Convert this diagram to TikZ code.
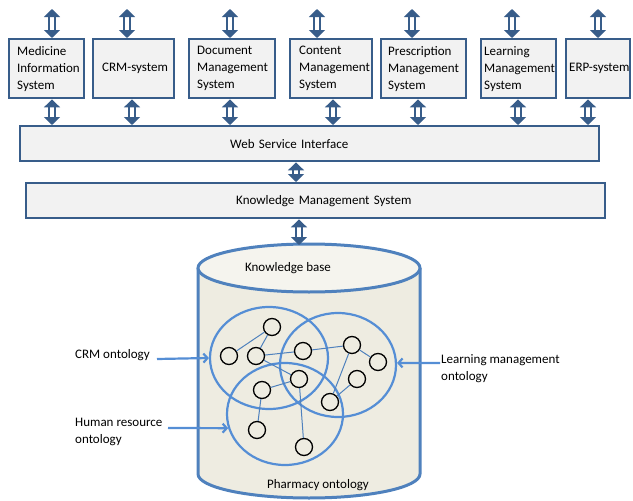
\documentclass[tikz,border=0pt]{standalone}
\usepackage{fontspec}
\setmainfont{Carlito}
\usetikzlibrary{shapes.geometric,arrows.meta}

\definecolor{boxline}{HTML}{385D8A}
\definecolor{boxfill}{HTML}{F2F2F2}
\definecolor{kbline}{HTML}{4F81BD}
\definecolor{kbbody}{HTML}{EEECE1}
\definecolor{kbtop}{HTML}{F5F4EE}
\definecolor{ontoline}{HTML}{558ED5}

\tikzset{
  sysbox/.style={draw=boxline, line width=2.4pt, fill=boxfill, anchor=north west,
    minimum height=59, inner xsep=0, align=left},
  widebox/.style={sysbox, minimum width=579, minimum height=35, text width=159},
  dblarr/.style={boxline, line width=1.8pt, double=white, double distance=3.6pt,
    {Triangle[width=16pt,length=8pt]}-{Triangle[width=16pt,length=8pt]}},
  onto/.style={ellipse, draw=ontoline, line width=2.2pt, inner sep=0},
  concept/.style={circle, draw=black, line width=1.3pt, fill=kbbody, minimum size=17, inner sep=0},
  link/.style={kbline, line width=1pt},
  ontarrow/.style={ontoline, line width=2.2pt, -{Straight Barb[length=4pt,width=9pt]}},
  lbl/.style={anchor=west, inner sep=0, align=left}
}

\begin{document}
\begin{tikzpicture}[x=1pt, y=-1pt, font=\fontsize{13pt}{17pt}\selectfont]
  \useasboundingbox (0,0) rectangle (633,501);

  % application systems
  \node[sysbox, minimum width=75, text width=59] (mis) at (8,38) {Medicine\\Information\\System};
  \node[sysbox, minimum width=81, text width=63] (crm) at (92,38) {\mbox{CRM-system}};
  \node[sysbox, minimum width=86, text width=70] (dms) at (188,38) {Document\\Management\\System};
  \node[sysbox, minimum width=82, text width=64] (cms) at (289,38) {Content\\Management\\System};
  \node[sysbox, minimum width=85, text width=71] (pms) at (380,38) {Prescription\\Management\\System};
  \node[sysbox, minimum width=75, text width=69] (lms) at (480,38) {Learning\\Management\\System};
  \node[sysbox, minimum width=64, text width=58] (erp) at (565,38) {\mbox{ERP-system}};

  \node[widebox] (wsi) at (19,125) {\mbox{Web Service Interface}};
  \node[widebox] (kms) at (25,182) {\mbox{Knowledge Management System}};

  \foreach \n/\tx/\bx in {mis/52/52, crm/127/132, dms/230/230, cms/317/333,
                          pms/412/418, lms/512/518, erp/598/588}{
    \coordinate (\n-top) at (\tx,9);
    \coordinate (\n-bot) at (\bx,0);
    \draw[dblarr] (\n-top) -- (\n-top |- \n.north);
    \draw[dblarr] (\n.south -| \n-bot) -- (wsi.north -| \n-bot);
  }
  \coordinate (wsi-kms) at (296,0);
  \draw[dblarr] (wsi.south -| wsi-kms) -- (kms.north -| wsi-kms);

  % knowledge base
  \draw[kbline, line width=3pt, fill=kbbody] (198,268) -- (198,474)
    arc[start angle=180, end angle=0, x radius=111, y radius=24] -- (420,268);
  \draw[kbline, line width=3pt, fill=kbtop] (309,268) ellipse[x radius=111, y radius=24];
  \coordinate (kb-in) at (299,245);
  \draw[dblarr] (kms.south -| kb-in) -- (kb-in);
  \node (kbtitle) at (288,268) {Knowledge base};
  \node (phalbl) at (318,485) {Pharmacy ontology};

  % ontologies
  \node[onto, minimum width=118, minimum height=102] (crmo) at (269,358) {};
  \node[onto, minimum width=116, minimum height=104] (lrno) at (338,365) {};
  \node[onto, minimum width=116, minimum height=102] (phao) at (285,414) {};

  \node[concept] (c1) at (272,327) {};
  \node[concept] (c2) at (229,356) {};
  \node[concept] (c3) at (256,356) {};
  \node[concept] (c4) at (303,351) {};
  \node[concept] (c5) at (352,345) {};
  \node[concept] (c6) at (378,362) {};
  \node[concept] (c7) at (299,379) {};
  \node[concept] (c8) at (357,379) {};
  \node[concept] (c9) at (262,390) {};
  \node[concept] (c10) at (330,402) {};
  \node[concept] (c11) at (257,430) {};
  \node[concept] (c12) at (304,447) {};

  \foreach \a/\b in {c2/c1, c3/c1, c3/c4, c4/c5, c5/c6, c5/c10, c8/c10,
                     c3/c7, c9/c7, c9/c11, c7/c12}
    \draw[link] (\a) -- (\b);

  % labels
  \node[lbl] (crmlbl) at (75,355) {CRM ontology};
  \node[lbl] (hrlbl) at (75,431.5) {Human resource\\ontology};
  \node[lbl] (lrnlbl) at (441,368.5) {Learning management\\ontology};
  \coordinate (crm-tail) at (157,359);
  \coordinate (hr-tail) at (168,428);
  \coordinate (lrn-tail) at (440,363);
  \draw[ontarrow] (crm-tail) -- (crmo.west);
  \draw[ontarrow] (hr-tail) -- (phao.194);
  \draw[ontarrow] (lrn-tail) -- (lrno.2);
\end{tikzpicture}
\end{document}
